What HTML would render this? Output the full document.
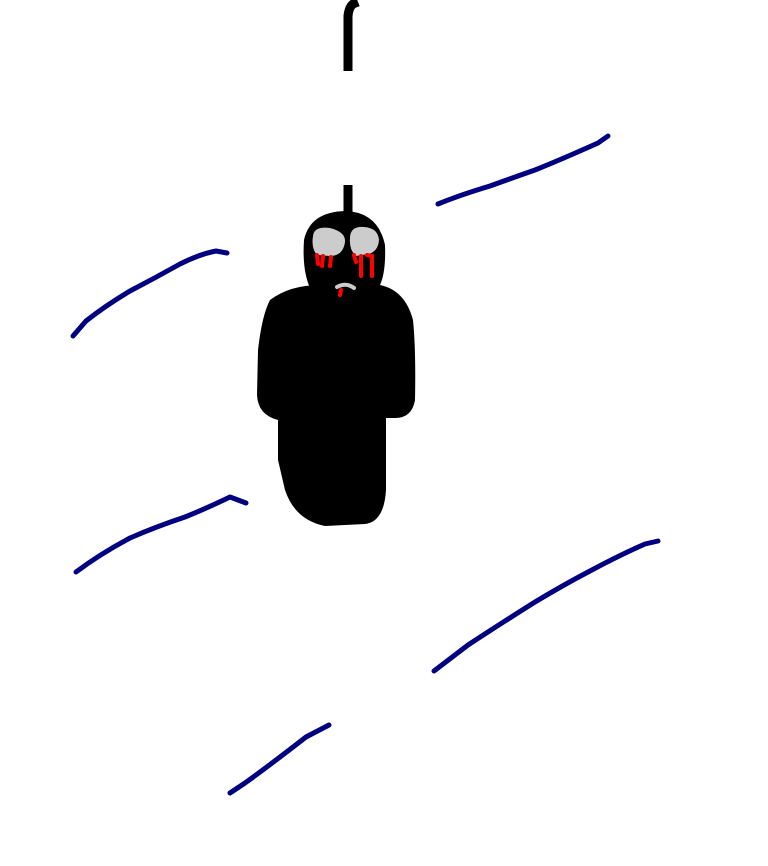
<!DOCTYPE html>
<html><head><meta charset="utf-8"><style>html,body{margin:0;padding:0;background:#fff;}svg{display:block}</style></head>
<body>
<svg width="768" height="866" viewBox="0 0 768 866" xmlns="http://www.w3.org/2000/svg">
<g fill="none" stroke="#000" stroke-linecap="butt">
<path d="M348 71 L348 16 Q349 7 353 4 L358 2" stroke-width="9"/>
<path d="M348 185 L348 215" stroke-width="9"/>
</g>
<path d="M304 240 Q310 212 345 211 Q378 212 385 245 Q386 272 380 285 L310 288 Q302 270 304 240Z" fill="#000"/>
<path d="M270 300 Q290 285 320 285 L380 285 Q405 290 413 320 Q416 350 415 400 Q412 418 395 418 L386 418 L386 490 Q384 522 365 524 L325 526 Q295 520 285 490 L278 460 L278 420 Q258 415 257 395 L258 350 Q262 315 270 300Z" fill="#000"/>
<path d="M313 236 Q314 226 330 228 Q346 232 345 242 Q343 256 330 256 L317 255 Q311 248 313 236Z" fill="#cccccc"/>
<path d="M350 238 Q350 226 364 227 Q378 228 379 240 Q378 252 368 254 L356 256 Q349 250 350 238Z" fill="#cccccc"/>
<g stroke="#f00" stroke-width="4" stroke-linecap="round" fill="none">
<path d="M317 255 L318 264 M323 256 L322 266 M331 257 L330 266"/>
<path d="M354 255 L356 262 M361 256 L361 276 M367 255 L372 256 L372 276"/>
<path d="M341 290 L340 295"/>
</g>
<path d="M337 287 Q346 282 354 288" stroke="#ccc" stroke-width="4" fill="none" stroke-linecap="round"/>
<g fill="none" stroke="#000080" stroke-width="5" stroke-linecap="round" stroke-linejoin="round">
<path d="M438 204 Q460 195 490 186 Q515 177 535 170 Q560 160 598 143 L608 136"/>
<path d="M73 336 L86 321 Q105 306 130 291 Q155 278 180 264 Q200 254 216 251 L227 253"/>
<path d="M76 572 Q100 554 130 538 Q155 527 185 517 Q205 509 230 497 L246 503"/>
<path d="M434 671 L468 645 Q500 624 535 602 Q565 584 590 571 Q620 555 645 544 L658 541"/>
<path d="M230 793 L245 783 Q270 765 306 737 L329 725"/>
</g>
</svg>
</body></html>
